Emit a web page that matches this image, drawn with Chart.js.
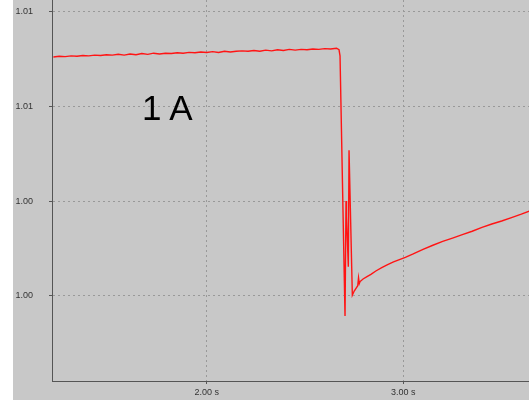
<!DOCTYPE html>
<html>
<head>
<meta charset="utf-8">
<title>1 A step</title>
<script src="https://cdn.jsdelivr.net/npm/chart.js"></script>
<style>
  html, body { margin: 0; padding: 0; background: #fff; }
  #wrap { position: relative; width: 529px; height: 407px; }
  #note {
    position: absolute; left: 142px; top: 90px;
    font-family: "Liberation Sans", Arial, sans-serif;
    font-size: 35px; line-height: 35px; color: #000;
  }
</style>
</head>
<body>
<div id="wrap">
  <canvas id="trace" width="529" height="407"></canvas>
  <div id="note">1 A</div>
</div>
<script>
// time in seconds
const timeS = [
  1.22, 1.25, 1.28, 1.31, 1.34, 1.37, 1.40, 1.43, 1.46, 1.49,
  1.52, 1.55, 1.58, 1.61, 1.64, 1.67, 1.70, 1.73, 1.76, 1.79,
  1.82, 1.85, 1.88, 1.91, 1.94, 1.97, 2.00, 2.03, 2.06, 2.09,
  2.12, 2.15, 2.18, 2.21, 2.24, 2.27, 2.30, 2.33, 2.36, 2.39,
  2.42, 2.45, 2.48, 2.51, 2.54, 2.57, 2.60, 2.63, 2.66,
  2.6728, 2.6779, 2.7033, 2.7084, 2.7110, 2.7201, 2.7237, 2.7405,
  2.750, 2.760, 2.768, 2.772, 2.776, 2.780, 2.795, 2.815, 2.835,
  2.860, 2.890, 2.920, 2.950, 2.980, 3.010, 3.050, 3.100, 3.150,
  3.200, 3.250, 3.300, 3.350, 3.400, 3.450, 3.500, 3.550, 3.600, 3.640
];

// measured value
const volts = [
  1.00631, 1.00633, 1.00632, 1.00634, 1.00633, 1.00635, 1.00634, 1.00636, 1.00635, 1.00637,
  1.00636, 1.00638, 1.00636, 1.00639, 1.00637, 1.00640, 1.00638, 1.00641, 1.00639, 1.00641,
  1.00640, 1.00642, 1.00641, 1.00643, 1.00642, 1.00644, 1.00643, 1.00645, 1.00643, 1.00646,
  1.00644, 1.00646, 1.00647, 1.00646, 1.00648, 1.00646, 1.00649, 1.00647, 1.00650, 1.00648,
  1.00651, 1.00649, 1.00651, 1.00650, 1.00652, 1.00651, 1.00653, 1.00652, 1.00654,
  1.00650, 1.00634, 0.99947, 1.00251, 1.00209, 1.00077, 1.00385, 1.00002,
  1.00013, 1.00021, 1.00027, 1.00048, 1.00033, 1.00038, 1.00045, 1.00051, 1.00057,
  1.00066, 1.00075, 1.00083, 1.00090, 1.00096, 1.00102, 1.00111, 1.00123, 1.00134,
  1.00144, 1.00153, 1.00162, 1.00171, 1.00181, 1.00190, 1.00198, 1.00207, 1.00216, 1.00224
];

const xTicks = [2.0, 3.0];
const yTicks = [1.0, 1.0025, 1.005, 1.0075];
const yLabels = ['1.00', '1.00', '1.01', '1.01'];

const points = timeS.map((t, i) => ({ x: t, y: volts[i] }));

// grey panel behind everything
const plotBg = {
  id: 'plotBg',
  beforeDraw(chart) {
    let ctx = chart.ctx;
    ctx.save();
    ctx.fillStyle = '#c8c8c8';
    ctx.fillRect(13, 0, chart.width - 13, 400);
    ctx.restore();
  }
};

const tickFont = { family: 'Arial, "Liberation Sans", sans-serif', size: 9 };

new Chart(document.getElementById('trace'), {
  type: 'line',
  data: {
    datasets: [{
      data: points,
      borderColor: 'rgb(255,20,20)',
      borderWidth: 1.4,
      pointRadius: 0,
      tension: 0
    }]
  },
  options: {
    responsive: false,
    animation: false,
    layout: { padding: 0 },
    plugins: { legend: { display: false }, tooltip: { enabled: false } },
    scales: {
      x: {
        type: 'linear',
        min: 1.213,
        max: 3.639,
        afterBuildTicks: axis => { axis.ticks = xTicks.map(v => ({ value: v })); },
        afterFit: axis => { axis.height = 26; axis.paddingLeft = 0; axis.paddingRight = 0; },
        ticks: {
          callback: v => v.toFixed(2) + ' s',
          font: tickFont, color: '#333', padding: 3, maxRotation: 0
        },
        grid: { color: '#999', tickColor: '#555', tickLength: 3 },
        border: { color: '#555', width: 1, dash: [2, 3] }
      },
      y: {
        min: 0.997756,
        max: 1.007814,
        afterBuildTicks: axis => { axis.ticks = yTicks.map(v => ({ value: v })); },
        afterFit: axis => { axis.width = 52; axis.paddingTop = 0; axis.paddingBottom = 0; },
        ticks: {
          callback: (v, i) => yLabels[i],
          font: tickFont, color: '#333', padding: 16
        },
        grid: { color: '#999', tickColor: '#555', tickLength: 3 },
        border: { color: '#555', width: 1, dash: [2, 3] }
      }
    }
  },
  plugins: [plotBg]
});
</script>
</body>
</html>
